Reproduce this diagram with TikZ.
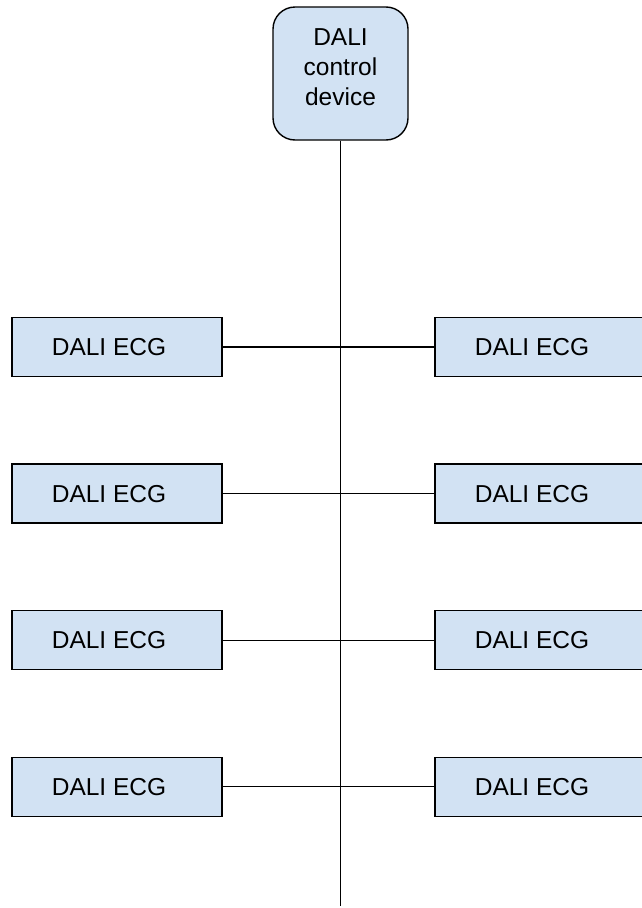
\documentclass[tikz,border=0pt]{standalone}
\usepackage{fontspec}
\setmainfont{Liberation Sans}
\usepackage{tikz}
\usetikzlibrary{positioning}
\definecolor{daliblue}{RGB}{210,226,243}
\tikzset{dalibox/.style={draw, line width=1.4pt, fill=daliblue, inner sep=0pt, font=\fontsize{24.5}{30}\selectfont},
daliecg/.style={dalibox, minimum width=210pt, minimum height=59pt, execute at begin node=\kern-16pt},
dalictrl/.style={dalibox, rounded corners=22pt, minimum width=135pt, minimum height=133pt, align=center, text depth=12pt},
daliline/.style={line width=1.3pt}}

\begin{document}
\begin{tikzpicture}[x=1pt, y=-1pt]
\useasboundingbox (0,0) rectangle (642,908);
\node[dalictrl] (ctrl) at (340.5,73.5) {DALI\\control\\device};
\node[daliecg] (l1) at (117,347) {DALI ECG};
\node[daliecg, below=86.2pt of l1] (l2) {DALI ECG};
\node[daliecg, below=86.2pt of l2] (l3) {DALI ECG};
\node[daliecg, below=86.2pt of l3] (l4) {DALI ECG};
\node[daliecg, right=211.6pt of l1] (r1) {DALI ECG};
\node[daliecg, right=211.6pt of l2] (r2) {DALI ECG};
\node[daliecg, right=211.6pt of l3] (r3) {DALI ECG};
\node[daliecg, right=211.6pt of l4] (r4) {DALI ECG};
\coordinate (busend) at (340.5,906);
\draw[daliline] (ctrl) -- (busend);
\draw[daliline] (l1) -- (r1);
\draw[daliline] (l2) -- (r2);
\draw[daliline] (l3) -- (r3);
\draw[daliline] (l4) -- (r4);
\end{tikzpicture}
\end{document}
